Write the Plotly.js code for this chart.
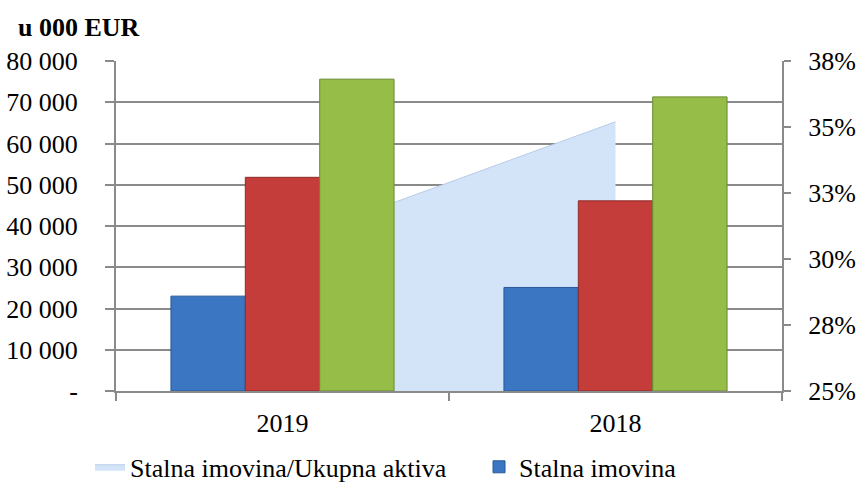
<!DOCTYPE html>
<html>
<head>
<meta charset="utf-8">
<script src="https://cdn.plot.ly/plotly-3.0.1.min.js"></script>
<style>
  html, body { margin: 0; padding: 0; background: #fff; }
  #grafico { width: 858px; height: 487px; }
</style>
</head>
<body>
<div id="grafico"></div>
<script>
// Godine (kategorije)
const godine = ['2019', '2018'];

// Iznosi u 000 EUR
const stalnaImovina = [23000, 25100];
const kratkotrajnaImovina = [51800, 46100];
const ukupnaAktiva = [75600, 71300];

// Udio stalne imovine u ukupnoj aktivi
const udio = [0.306, 0.352];

// Oznake osi
const lijeviTickVals = [0, 10000, 20000, 30000, 40000, 50000, 60000, 70000, 80000];
const lijeviTickText = ['-', '10 000', '20 000', '30 000', '40 000', '50 000', '60 000', '70 000', '80 000'];
const desniTickVals = [0.25, 0.275, 0.30, 0.325, 0.35, 0.375];
const desniTickText = ['25%', '28%', '30%', '33%', '35%', '38%'];

const font = 'Liberation Serif, Times New Roman, serif';
const siva = '#8a8a8a';

const data = [
    {
        // udio - na primarnoj osi (desno) da bude ispod stupaca
        x: godine,
        y: udio,
        name: 'Stalna imovina/Ukupna aktiva',
        type: 'scatter',
        mode: 'lines',
        fill: 'tozeroy',
        fillcolor: '#d3e4f9',
        line: { color: '#b7cce6', width: 1 },
        yaxis: 'y'
    },
    {
        x: godine,
        y: stalnaImovina,
        name: 'Stalna imovina',
        type: 'bar',
        marker: { color: '#3a76c2', line: { color: '#2a5897', width: 1 } },
        yaxis: 'y2'
    },
    {
        x: godine,
        y: kratkotrajnaImovina,
        name: 'Kratkotrajna imovina',
        type: 'bar',
        showlegend: false,
        marker: { color: '#c43d3b', line: { color: '#8e2b29', width: 1 } },
        yaxis: 'y2'
    },
    {
        x: godine,
        y: ukupnaAktiva,
        name: 'Ukupna aktiva',
        type: 'bar',
        showlegend: false,
        marker: { color: '#95bd48', line: { color: '#6b8b31', width: 1 } },
        yaxis: 'y2'
    }
];

const layout = {
    width: 858,
    height: 487,
    margin: { l: 116, r: 76, t: 61, b: 96, autoexpand: false },
    paper_bgcolor: '#ffffff',
    plot_bgcolor: '#ffffff',
    font: { family: font, size: 26, color: '#000' },
    title: {
        text: '<b>u 000 EUR</b>',
        font: { family: font, size: 26, color: '#000' },
        xref: 'container',
        x: 0.021,
        xanchor: 'left',
        y: 0.944,
        yanchor: 'middle'
    },
    barmode: 'group',
    bargap: 0.33,
    bargroupgap: 0,
    showlegend: true,
    legend: {
        orientation: 'h',
        x: -0.039,
        xanchor: 'left',
        y: -0.23,
        yanchor: 'middle',
        font: { family: font, size: 26, color: '#000' },
        itemwidth: 30,
        entrywidth: 344,
        bgcolor: 'rgba(0,0,0,0)'
    },
    xaxis: {
        type: 'category',
        range: [-0.5, 1.5],
        tickson: 'boundaries',
        ticks: 'outside',
        ticklen: 8,
        tickwidth: 2,
        tickcolor: siva,
        showline: true,
        linecolor: siva,
        linewidth: 2,
        showgrid: false,
        ticklabelstandoff: 8,
        tickfont: { family: font, size: 26, color: '#000' }
    },
    yaxis: {
        side: 'right',
        range: [0.25, 0.375],
        tickvals: desniTickVals,
        ticktext: desniTickText,
        ticks: 'outside',
        ticklen: 7,
        tickwidth: 2,
        tickcolor: siva,
        showline: true,
        linecolor: siva,
        linewidth: 2,
        showgrid: false,
        zeroline: false,
        ticklabelstandoff: 12,
        tickfont: { family: font, size: 26, color: '#000' }
    },
    yaxis2: {
        overlaying: 'y',
        side: 'left',
        range: [0, 80000],
        tickvals: lijeviTickVals,
        ticktext: lijeviTickText,
        ticks: 'outside',
        ticklen: 9,
        tickwidth: 2,
        tickcolor: siva,
        showline: true,
        linecolor: siva,
        linewidth: 2,
        showgrid: true,
        gridcolor: siva,
        gridwidth: 2,
        zeroline: false,
        ticklabelstandoff: 22,
        tickfont: { family: font, size: 26, color: '#000' }
    }
};

Plotly.newPlot('grafico', data, layout, { displayModeBar: false, staticPlot: true });
</script>
</body>
</html>
